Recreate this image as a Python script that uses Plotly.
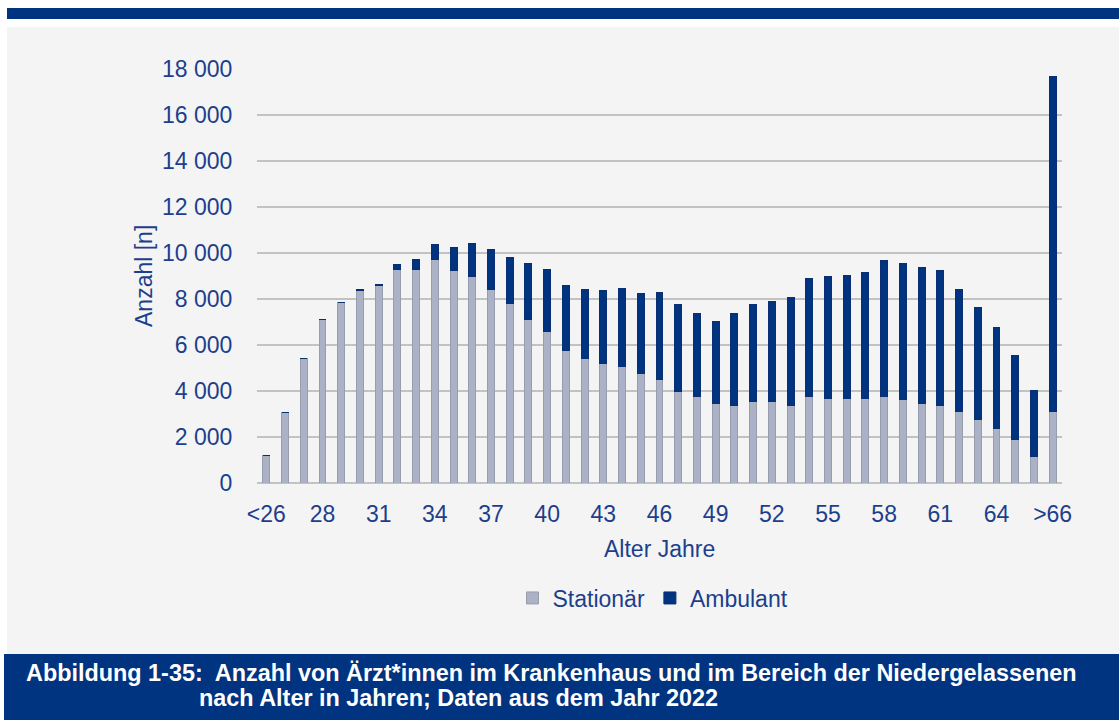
import plotly.graph_objects as go

# Age groups (years)
ages = ["<26"] + [str(a) for a in range(26, 67)] + [">66"]

# Doctors in hospitals (stationär) per age group
stationaer = [
    1200, 3050, 5400, 7100, 7850, 8350, 8580, 9300, 9300, 9700,
    9250, 8970, 8420, 7810, 7130, 6580, 5740, 5400, 5190, 5070,
    4740, 4520, 4000, 3780, 3460, 3390, 3560, 3560, 3390, 3740,
    3680, 3680, 3680, 3740, 3620, 3460, 3390, 3130, 2780, 2390,
    1900, 1160, 3130,
]

# Doctors in private practice (ambulant) per age group
ambulant = [
    0, 0, 0, 0, 0, 70, 50, 190, 400, 680,
    1000, 1460, 1740, 2010, 2400, 2720, 2850, 3020, 3190, 3400,
    3520, 3780, 3740, 3580, 3570, 3970, 4180, 4310, 4680, 5130,
    5300, 5360, 5460, 5950, 5910, 5910, 5870, 5290, 4860, 4350,
    3660, 2880, 14540,
]

# Every third age group gets a tick label
tick_ages = ages[::3]

y_ticks = list(range(0, 18001, 2000))
y_tick_text = ["0"] + [f"{v // 1000} 000" for v in y_ticks[1:]]

caption_1 = "Abbildung 1-35:  Anzahl von Ärzt*innen im Krankenhaus und im Bereich der Niedergelassenen"
caption_2 = "nach Alter in Jahren; Daten aus dem Jahr 2022"

W, H = 1119, 720
L, R, T, B = 257, 1062, 69, 483  # plot area in pixels

TEXT = "#1c3f8c"
NAVY = "#003380"
GREY_BAR = "#abb2c5"
PANEL = "#f4f4f4"
FONT = "Liberation Sans, Arial, sans-serif"


def xp(px):
    return (px - L) / (R - L)


def yp(py):
    return (B - py) / (B - T)


fig = go.Figure()
fig.add_trace(go.Bar(
    x=ages, y=stationaer, name="Stationär",
    marker=dict(color=GREY_BAR, line=dict(color="#979daf", width=1)),
))
fig.add_trace(go.Bar(
    x=ages, y=ambulant, name="Ambulant",
    marker=dict(color=NAVY, line=dict(color="#0a2f70", width=1)),
))

shapes = [
    # grey panel behind the chart
    dict(type="rect", xref="paper", yref="paper", layer="below",
         x0=xp(7), x1=xp(W), y0=yp(654), y1=yp(27),
         fillcolor=PANEL, line=dict(width=0)),
    # top rule
    dict(type="rect", xref="paper", yref="paper", layer="below",
         x0=xp(7), x1=xp(W), y0=yp(19), y1=yp(8),
         fillcolor=NAVY, line=dict(width=0)),
    # caption box
    dict(type="rect", xref="paper", yref="paper", layer="below",
         x0=xp(4), x1=xp(W), y0=yp(H), y1=yp(654),
         fillcolor=NAVY, line=dict(width=0)),
]

annotations = [
    dict(text="Anzahl [n]", xref="paper", yref="paper", x=xp(144), y=yp(276),
         textangle=-90, showarrow=False, xanchor="center", yanchor="middle",
         font=dict(size=23, color=TEXT, family=FONT)),
    dict(text="Alter Jahre", xref="paper", yref="paper", x=xp(659), y=yp(549),
         showarrow=False, xanchor="center", yanchor="middle",
         font=dict(size=23, color=TEXT, family=FONT)),
    dict(text=f"<b>{caption_1}</b>", xref="paper", yref="paper", x=xp(24), y=yp(673),
         showarrow=False, xanchor="left", yanchor="middle",
         font=dict(size=23.4, color="white", family=FONT)),
    dict(text=f"<b>{caption_2}</b>", xref="paper", yref="paper", x=xp(197), y=yp(698),
         showarrow=False, xanchor="left", yanchor="middle",
         font=dict(size=23.4, color="white", family=FONT)),
]

fig.update_layout(
    width=W, height=H,
    margin=dict(l=L, r=W - R, t=T, b=H - B, pad=0),
    paper_bgcolor="white",
    plot_bgcolor=PANEL,
    barmode="stack",
    bargap=0.63,
    font=dict(family=FONT, size=23, color=TEXT),
    shapes=shapes,
    annotations=annotations,
    showlegend=True,
    legend=dict(
        orientation="h", x=xp(653), xanchor="center", y=yp(598), yanchor="middle",
        font=dict(size=23, color=TEXT, family=FONT),
        bgcolor="rgba(0,0,0,0)", traceorder="normal",
    ),
    xaxis=dict(
        type="category", categoryorder="array", categoryarray=ages,
        tickmode="array", tickvals=tick_ages, ticktext=tick_ages,
        tickfont=dict(size=23, color=TEXT),
        ticks="outside", ticklen=10, tickcolor="rgba(0,0,0,0)",
        showgrid=False, showline=False, zeroline=False,
    ),
    yaxis=dict(
        range=[0, 18000], tickmode="array", tickvals=y_ticks, ticktext=y_tick_text,
        tickfont=dict(size=23, color=TEXT),
        ticks="outside", ticklen=19, tickcolor="rgba(0,0,0,0)",
        showgrid=True, gridcolor="#c2c2c2", gridwidth=2,
        zeroline=True, zerolinecolor="#c2c2c2", zerolinewidth=2,
        showline=False,
    ),
)

fig.write_html("out.html")
